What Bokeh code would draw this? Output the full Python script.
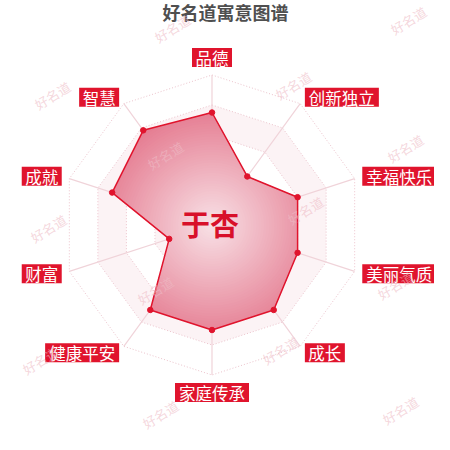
import math
from bokeh.plotting import figure
from bokeh.models import Range1d
from bokeh.core.properties import value
from bokeh.embed import file_html
from bokeh.resources import INLINE

# ---------------- data ----------------
title_text = "好名道寓意图谱"
person_name = "于杏"
dimension_names = ["品德", "创新独立", "幸福快乐", "美丽气质", "成长",
                   "家庭传承", "健康平安", "财富", "成就", "智慧"]
dimension_values = [75, 40, 60, 60, 70, 70, 70, 30, 70, 78]
max_value = 100
ring_levels = [20, 40, 60, 80, 100]
watermark_text = "好名道"

# ---------------- layout ----------------
FONT = "Noto Sans CJK SC"
CX, CY, R = 211.5, 224.5, 150.0
RED = "#e0142d"

p = figure(width=434, height=434, output_backend="svg", toolbar_location=None,
           x_range=Range1d(0, 434), y_range=Range1d(434, 0), min_border=0)
p.axis.visible = False
p.grid.visible = False
p.outline_line_color = None
p.background_fill_color = "white"
p.border_fill_color = "white"

n = len(dimension_names)
angles = [2 * math.pi * i / n for i in range(n)]


def to_xy(r, a):
    return CX + r * math.sin(a), CY - r * math.cos(a)


def ring(frac):
    pts = [to_xy(R * frac, a) for a in angles]
    return [q[0] for q in pts], [q[1] for q in pts]


# split areas (alternating light bands), drawn from outside in
for lv in sorted(ring_levels, reverse=True):
    idx = ring_levels.index(lv)
    xs, ys = ring(lv / max_value)
    col = "#fcf3f5" if idx % 2 == 1 else "white"
    p.patch(xs, ys, fill_color=col, line_color=None)

# ring lines
for lv in ring_levels:
    xs, ys = ring(lv / max_value)
    p.patch(xs + [xs[0]], ys + [ys[0]], fill_color=None, line_color="#ecc3cc",
            line_width=1, line_dash="1 2")

# spokes
for a in angles:
    x1, y1 = to_xy(R, a)
    p.line([CX, x1], [CY, y1], line_color="#f0d3d9", line_width=1.2)

# ---------------- data polygon with radial gradient ----------------
radii = [R * v / max_value for v in dimension_values]
P = [(r * math.sin(a), r * math.cos(a)) for r, a in zip(radii, angles)]


def cross(a, b):
    return a[0] * b[1] - a[1] * b[0]


samples = []  # (phi, radius of polygon on that ray)
steps = 24
for i in range(n):
    a0 = angles[i]
    Pi, Pj = P[i], P[(i + 1) % n]
    E = (Pj[0] - Pi[0], Pj[1] - Pi[1])
    for s in range(steps):
        phi = a0 + (2 * math.pi / n) * s / steps
        d = (math.sin(phi), math.cos(phi))
        den = cross(d, E)
        t = cross(Pi, E) / den if abs(den) > 1e-12 else radii[i]
        samples.append((phi, t))

rmax = max(radii)
inner_c = (248, 226, 231)
outer_c = (229, 124, 145)
levels = 45
gx, gy, gc = [], [], []
for k in range(levels, 0, -1):
    cap = rmax * k / levels
    f = k / levels
    col = tuple(int(round(inner_c[j] + (outer_c[j] - inner_c[j]) * f)) for j in range(3))
    xs, ys = [], []
    for phi, t in samples:
        x, y = to_xy(min(t, cap), phi)
        xs.append(x)
        ys.append(y)
    gx.append(xs)
    gy.append(ys)
    gc.append("#%02x%02x%02x" % col)
p.patches(gx, gy, fill_color=gc, line_color=None)

vx = [to_xy(r, a)[0] for r, a in zip(radii, angles)]
vy = [to_xy(r, a)[1] for r, a in zip(radii, angles)]
p.patch(vx + [vx[0]], vy + [vy[0]], fill_color=None, line_color=RED, line_width=1.5)
p.scatter(vx, vy, size=5.5, fill_color=RED, line_color=RED)

# center name
p.text([CX - 2], [CY - 2], text=[person_name], text_font=value(FONT),
       text_font_size="29px", text_font_style="bold", text_color="#d8102a",
       text_align="center", text_baseline="middle")

# title
p.text([225], [11], text=[title_text], text_font=value(FONT),
       text_font_size="18px", text_font_style="bold", text_color="#4f4f4f",
       text_align="center", text_baseline="middle")

# ---------------- dimension labels ----------------
GAP = 8
CHAR_W = 17
BOX_H = 19
bx, by, bw = [], [], []
for name, a in zip(dimension_names, angles):
    ax, ay = to_xy(R + GAP, a)
    w = CHAR_W * len(name) + 6
    s, c = math.sin(a), math.cos(a)
    if s > 0.01:
        xc = ax + w / 2
    elif s < -0.01:
        xc = ax - w / 2
    else:
        xc = ax
    if abs(s) <= 0.01:
        yc = ay - BOX_H / 2 if c > 0 else ay + BOX_H / 2
    else:
        yc = ay
    bx.append(xc)
    by.append(yc)
    bw.append(w)
p.rect(bx, by, width=bw, height=BOX_H, fill_color=RED, line_color=None)
p.text(bx, [y + 0.5 for y in by], text=dimension_names, text_font=value(FONT),
       text_font_size="16.5px", text_color="white",
       text_align="center", text_baseline="middle")

# ---------------- watermarks ----------------
wm_x = [172, 408, 52, 293, 165, 405, 48, 305, 155, 395, 40, 280, 160, 400]
wm_y = [28, 20, 95, 85, 155, 148, 228, 210, 290, 285, 360, 350, 414, 410]
p.text(wm_x, wm_y, text=[watermark_text] * len(wm_x), text_font=value(FONT),
       text_font_size="13px", text_color="#eebcc6", text_alpha=0.6,
       angle=0.55, text_align="center", text_baseline="middle")

open("out.html", "w").write(file_html(p, INLINE))
